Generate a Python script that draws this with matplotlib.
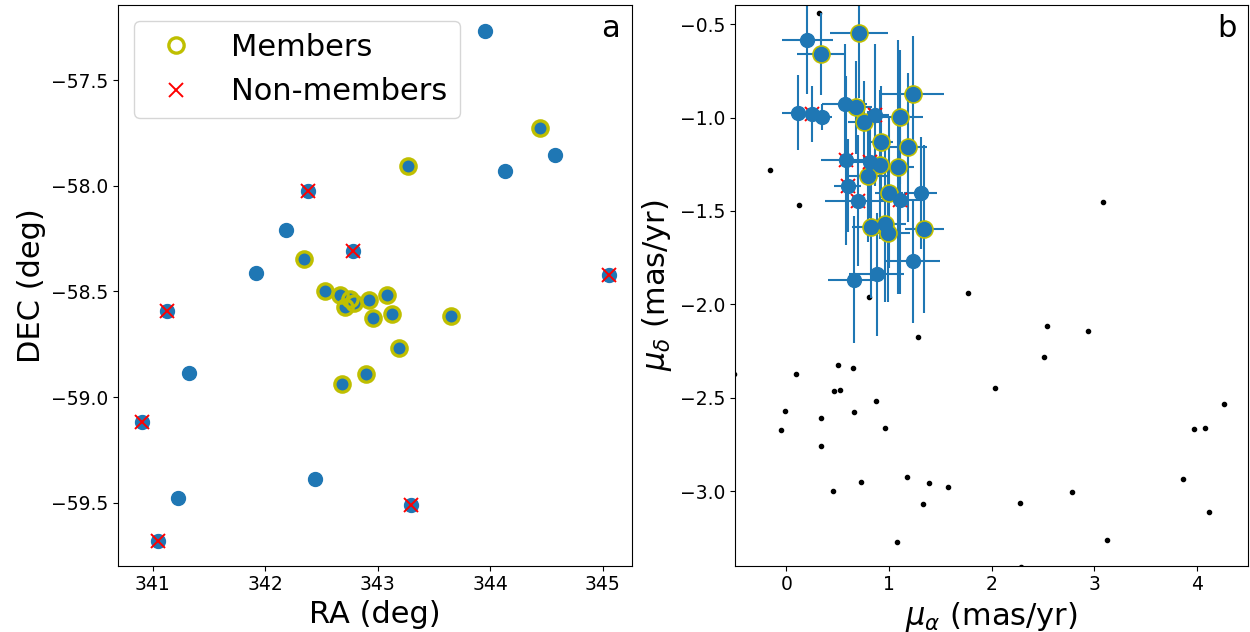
import matplotlib.pyplot as plt
import numpy as np

# panel a: positions (deg)
ra_mem = [344.442, 343.267, 342.346, 342.532, 342.666, 342.755, 342.710, 342.790,
          342.926, 343.084, 343.131, 342.956, 343.650, 343.193, 342.900, 342.684]
dec_mem = [-57.729, -57.907, -58.346, -58.498, -58.517, -58.536, -58.575, -58.554,
           -58.541, -58.517, -58.607, -58.625, -58.615, -58.766, -58.891, -58.937]
ra_non = [342.384, 342.783, 345.053, 341.125, 340.906, 341.050, 343.295]
dec_non = [-58.025, -58.310, -58.421, -58.595, -59.117, -59.679, -59.513]
ra_oth = [343.952, 344.133, 344.579, 342.187, 341.917, 341.327, 342.440, 341.224]
dec_oth = [-57.267, -57.929, -57.856, -58.210, -58.411, -58.884, -59.389, -59.479]

# panel b: proper motions (mas/yr) with errors
pmra_mem = [0.710, 0.334, 1.233, 0.678, 0.762, 1.104, 0.923, 1.191,
            0.915, 1.093, 0.801, 1.002, 0.821, 0.966, 0.987, 1.345]
pmde_mem = [-0.545, -0.659, -0.876, -0.945, -1.025, -0.998, -1.131, -1.160,
            -1.253, -1.266, -1.315, -1.405, -1.587, -1.570, -1.617, -1.599]
epmra_mem = [0.28, 0.23, 0.30, 0.16, 0.16, 0.23, 0.12, 0.18,
             0.14, 0.15, 0.20, 0.14, 0.18, 0.20, 0.22, 0.19]
epmde_mem = [0.35, 0.22, 0.31, 0.25, 0.22, 0.36, 0.30, 0.40,
             0.40, 0.68, 0.35, 0.40, 0.38, 0.42, 0.37, 0.45]

pmra_non = [0.250, 0.863, 0.584, 0.818, 0.597, 0.697, 1.110]
pmde_non = [-0.983, -0.985, -1.230, -1.236, -1.364, -1.446, -1.444]
epmra_non = [0.10, 0.14, 0.25, 0.17, 0.13, 0.32, 0.20]
epmde_non = [0.15, 0.38, 0.45, 0.30, 0.25, 0.35, 0.50]

pmra_oth = [0.206, 0.117, 0.346, 0.568, 1.312, 1.231, 0.882, 0.663]
pmde_oth = [-0.583, -0.974, -0.995, -0.927, -1.404, -1.768, -1.840, -1.869]
epmra_oth = [0.25, 0.16, 0.10, 0.22, 0.16, 0.27, 0.27, 0.26]
epmde_oth = [0.29, 0.20, 0.07, 0.32, 0.30, 0.33, 0.33, 0.34]

# field stars
pmra_fld = [0.321, -0.156, 0.123, 0.805, 1.771, 1.288, 2.543, 2.936, 2.514, 2.034,
            0.091, 0.500, 0.649, 0.464, 0.522, 0.876, 0.655, -0.010, -0.055, 0.334,
            0.334, 0.960, 0.451, 0.727, 1.181, 1.330, 1.395, 1.580, 1.083, 2.274,
            2.787, 3.124, 3.870, 3.978, 4.085, 4.263, 4.120, 3.085, 2.290, -0.505]
pmde_fld = [-0.442, -1.280, -1.469, -1.961, -1.941, -2.175, -2.116, -2.141, -2.283, -2.451,
            -2.373, -2.323, -2.342, -2.463, -2.460, -2.519, -2.579, -2.569, -2.674, -2.611,
            -2.759, -2.661, -3.000, -2.950, -2.927, -3.070, -2.957, -2.977, -3.273, -3.062,
            -3.004, -3.262, -2.934, -2.670, -2.661, -2.533, -3.114, -1.454, -3.405, -2.374]

fig = plt.figure(figsize=(12.5, 6.32), dpi=100)
ax1 = fig.add_axes([0.0946, 0.1049, 0.411, 0.8864])
ax2 = fig.add_axes([0.588, 0.1049, 0.4104, 0.8864])

ring = dict(linestyle="none", marker="o", ms=11, mfc="none", mec="y", mew=2.4)
cross = dict(linestyle="none", marker="x", ms=10, color="r", mew=1.4)

# --- a ---
ax1.plot(ra_oth + ra_mem + ra_non, dec_oth + dec_mem + dec_non, "o", color="C0", ms=10)
ax1.plot(ra_mem, dec_mem, label="Members", **ring)
ax1.plot(ra_non, dec_non, label="Non-members", **cross)
ax1.set_xlim(340.694, 345.261)
ax1.set_ylim(-59.798, -57.147)
ax1.set_xlabel("RA (deg)", fontsize=22)
ax1.set_ylabel("DEC (deg)", fontsize=22)
ax1.legend(loc="upper left", fontsize=22)
ax1.text(0.977, 0.984, "a", transform=ax1.transAxes, ha="right", va="top", fontsize=22)

# --- b ---
ax2.plot(pmra_fld, pmde_fld, "k.")
ax2.errorbar(pmra_oth + pmra_mem + pmra_non, pmde_oth + pmde_mem + pmde_non,
             xerr=epmra_oth + epmra_mem + epmra_non,
             yerr=epmde_oth + epmde_mem + epmde_non,
             fmt="o", color="C0", ms=10, elinewidth=1.5)
ax2.plot(pmra_mem, pmde_mem, **ring)
ax2.plot(pmra_non, pmde_non, **cross)
ax2.set_xlim(-0.5, 4.5)
ax2.set_ylim(-3.40, -0.40)
ax2.set_xlabel(r"$\mu_\alpha$ (mas/yr)", fontsize=22)
ax2.set_ylabel(r"$\mu_\delta$ (mas/yr)", fontsize=22)
ax2.text(0.977, 0.984, "b", transform=ax2.transAxes, ha="right", va="top", fontsize=22)

for ax in (ax1, ax2):
    ax.tick_params(labelsize=13.5)

plt.savefig("out.png", dpi=100)
